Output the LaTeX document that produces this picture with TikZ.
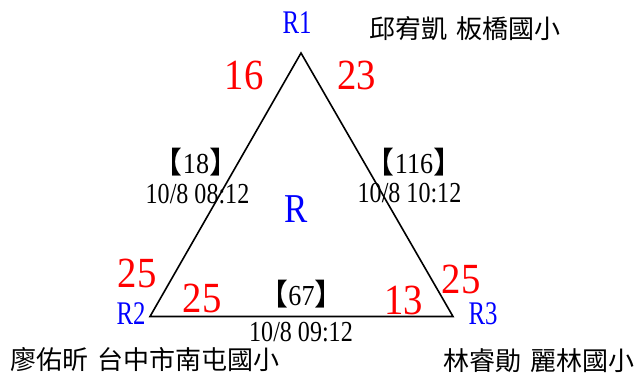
\documentclass[tikz,border=0pt]{standalone}
\usepackage{fontspec}
\setmainfont{Liberation Serif}
\newfontfamily\cjk{Noto Sans CJK TC}
\newfontfamily\rfnt[FakeStretch=0.75]{Liberation Serif}
\newfontfamily\nfnt[FakeStretch=0.9]{Liberation Serif}
\newfontfamily\dfnt[FakeStretch=0.83]{Liberation Serif}
\newfontfamily\bigRfnt[FakeStretch=0.85]{Liberation Serif}
\newcommand\lbrk{{\cjk\fontsize{30}{30}\selectfont 【}}
\newcommand\rbrk{{\cjk\fontsize{30}{30}\selectfont 】}}
\newcommand\gap{\hspace{3pt}}
\tikzset{
 vlabel/.style={text=blue, font=\rfnt\fontsize{33}{33}\selectfont, inner sep=0pt, anchor=base, text height=22pt, text depth=0pt},
 num/.style={text=red, font=\nfnt\fontsize{43}{43}\selectfont, inner sep=0pt, anchor=base, text height=30pt, text depth=0pt},
 datel/.style={font=\dfnt\fontsize{29}{29}\selectfont, inner sep=0pt, anchor=base},
 cntl/.style={font=\nfnt\fontsize{29}{29}\selectfont, inner sep=0pt, anchor=base},
 namel/.style={font=\cjk\fontsize{26}{26}\selectfont, inner sep=0pt, anchor=west},
 bigr/.style={text=blue, font=\bigRfnt\fontsize{41}{41}\selectfont, inner sep=0pt, anchor=base},
 edgel/.style={line width=1.6pt}
}
\begin{document}
\begin{tikzpicture}[x=1pt,y=-1pt]
\useasboundingbox (0,0) rectangle (639,373);
\coordinate (A) at (301,53);
\coordinate (B) at (150,316.5);
\coordinate (C) at (453,316.5);
\draw[edgel] (A) -- (B) -- (C) -- cycle;
\node[vlabel] (r1) at (297,33) {R1};
\node[namel] (n1) at (369,28.5) {邱宥凱 \gap{}板橋國小};
\node[num] (a16) at (244,89) {16};
\node[num] (a23) at (356.5,89) {23};
\node[cntl] (c18) at (196,173) {\lbrk{}18\rbrk};
\node[datel] (d18) at (197.5,203) {10/8 08:12};
\node[cntl] (c116) at (414,173) {\lbrk{}116\rbrk};
\node[datel] (d116) at (409.5,202) {10/8 10:12};
\node[bigr] (R) at (296.5,222) {R};
\node[num] (b25) at (137,287) {25};
\node[vlabel] (r2) at (131,324) {R2};
\node[num] (m25) at (202,312) {25};
\node[cntl] (c67) at (301.5,305) {\lbrk{}67\rbrk};
\node[datel] (d67) at (301,341) {10/8 09:12};
\node[num] (a13) at (403.5,314) {13};
\node[num] (c25) at (461,293) {25};
\node[vlabel] (r3) at (483,324) {R3};
\node[namel] (n2) at (10,360) {廖佑昕 \gap{}台中市南屯國小};
\node[namel] (n3) at (443,361) {林睿勛 \gap{}麗林國小};
\end{tikzpicture}
\end{document}
